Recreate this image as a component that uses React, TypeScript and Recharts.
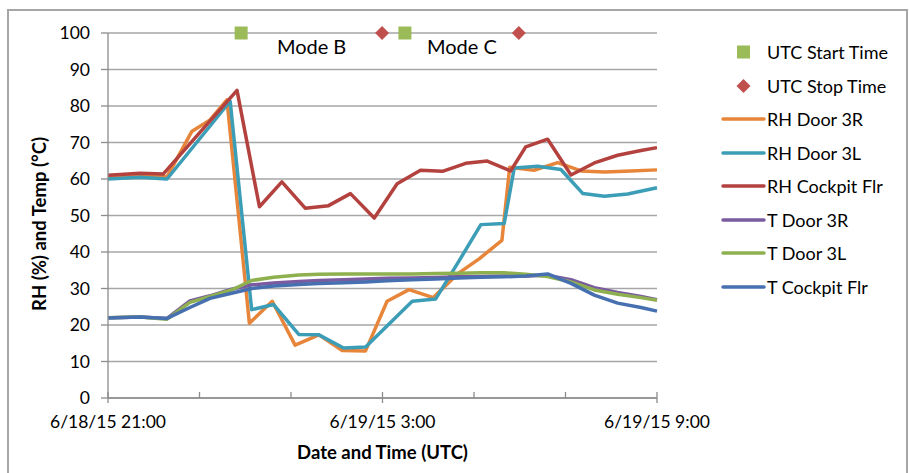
import React from 'react'
import { ComposedChart, Line, Scatter, XAxis, YAxis, CartesianGrid } from 'recharts'

// hours after 6/18/15 21:00 UTC
const xTicks = [0, 2, 4, 6, 8, 10, 12]
const xTickLabels: Record<number, string> = {
  0: '6/18/15 21:00',
  6: '6/19/15 3:00',
  12: '6/19/15 9:00',
}
const yTicks = [0, 10, 20, 30, 40, 50, 60, 70, 80, 90, 100]

const startTimes = [2.91, 6.49]
const stopTimes = [5.99, 8.98]
const modeNames = ['Mode B', 'Mode C']
const markerLevel = 100
const modeLabelLevel = 96.2

const rhDoor3RTimes = [0, 0.7, 1.29, 1.83, 2.23, 2.6, 3.09, 3.59, 4.09, 4.61, 5.12, 5.63, 6.1, 6.58, 7.11, 7.64, 8.12, 8.61, 8.78, 9.31, 9.83, 10.34, 10.85, 11.43, 12]
const rhDoor3R = [60.3, 60.8, 60.6, 73.0, 76.2, 81.7, 20.5, 26.5, 14.5, 17.3, 13.0, 12.9, 26.5, 29.7, 27.5, 34.0, 38.2, 43.2, 63.2, 62.4, 64.5, 62.2, 61.9, 62.2, 62.5]

const rhDoor3LTimes = [0, 0.7, 1.29, 2.67, 3.14, 3.62, 4.17, 4.61, 5.15, 5.63, 6.65, 7.16, 7.67, 8.15, 8.66, 8.88, 9.39, 9.9, 10.38, 10.85, 11.36, 12]
const rhDoor3L = [60.0, 60.5, 60.0, 81.3, 24.2, 25.6, 17.4, 17.3, 13.7, 14.0, 26.5, 27.1, 37.5, 47.5, 47.8, 63.0, 63.5, 62.6, 56.0, 55.3, 55.9, 57.6]

const rhCockpitTimes = [0, 0.7, 1.21, 2.82, 3.31, 3.8, 4.31, 4.82, 5.3, 5.82, 6.32, 6.83, 7.31, 7.82, 8.29, 8.8, 9.13, 9.61, 10.12, 10.63, 11.14, 11.65, 12]
const rhCockpit = [61.0, 61.6, 61.4, 84.3, 52.4, 59.2, 52.0, 52.7, 56.0, 49.3, 58.7, 62.4, 62.1, 64.3, 64.9, 62.2, 68.8, 70.9, 61.1, 64.4, 66.5, 67.8, 68.6]

const tempTimes = [0, 0.7, 1.29, 1.79, 2.23, 2.7, 3.14, 3.62, 4.17, 4.61, 5.15, 5.63, 6.1, 6.65, 7.16, 7.67, 8.15, 8.66, 9.13, 9.61, 10.12, 10.63, 11.14, 11.65, 12]
const tDoor3R = [22.0, 22.2, 21.8, 26.6, 28.0, 29.8, 31.0, 31.5, 31.9, 32.2, 32.4, 32.6, 32.8, 32.9, 33.0, 33.2, 33.3, 33.4, 33.4, 33.6, 32.4, 30.2, 28.9, 27.8, 26.9]
const tDoor3L = [22.0, 22.2, 21.6, 26.2, 27.8, 29.6, 32.2, 33.1, 33.7, 33.9, 34.0, 34.0, 34.0, 34.0, 34.1, 34.2, 34.3, 34.3, 33.9, 33.3, 31.8, 29.6, 28.4, 27.5, 26.8]
const tCockpit = [21.9, 22.2, 21.8, 24.8, 27.3, 28.7, 30.0, 30.7, 31.1, 31.4, 31.6, 31.8, 32.1, 32.4, 32.6, 32.9, 33.1, 33.2, 33.4, 34.0, 31.4, 28.2, 26.0, 24.8, 23.8]

const toPoints = (times: number[], values: number[]) => times.map((t, i) => ({ t, v: values[i] }))

const lineSeries = [
  { name: 'RH Door 3R', color: '#E7863A', data: toPoints(rhDoor3RTimes, rhDoor3R) },
  { name: 'RH Door 3L', color: '#3C9DB6', data: toPoints(rhDoor3LTimes, rhDoor3L) },
  { name: 'RH Cockpit Flr', color: '#B3423F', data: toPoints(rhCockpitTimes, rhCockpit) },
  { name: 'T Door 3R', color: '#7B5B9F', data: toPoints(tempTimes, tDoor3R) },
  { name: 'T Door 3L', color: '#8EB04F', data: toPoints(tempTimes, tDoor3L) },
  { name: 'T Cockpit Flr', color: '#4670B0', data: toPoints(tempTimes, tCockpit) },
]

const startData = startTimes.map((t) => ({ t, v: markerLevel }))
const stopData = stopTimes.map((t) => ({ t, v: markerLevel }))
const modeData = modeNames.map((label, i) => ({
  t: (startTimes[i] + stopTimes[i]) / 2,
  v: modeLabelLevel,
  label,
}))

const START_COLOR = '#9BBB59'
const STOP_COLOR = '#C0504D'
const FONT = 'Lato, "Open Sans", sans-serif'

const Square = ({ cx, cy }: any) => (
  <rect x={cx - 6.5} y={cy - 6.5} width={13} height={13} fill={START_COLOR} />
)

const Diamond = ({ cx, cy }: any) => (
  <polygon
    points={`${cx},${cy - 7} ${cx + 7},${cy} ${cx},${cy + 7} ${cx - 7},${cy}`}
    fill={STOP_COLOR}
  />
)

const ModeText = ({ cx, cy, payload }: any) => (
  <text x={cx} y={cy} dy="0.35em" textAnchor="middle" fontSize={20} fill="#000">
    {payload?.label}
  </text>
)

const XTick = ({ x, y, payload }: any) => {
  const label = xTickLabels[payload.value]
  return (
    <g>
      <line x1={x} x2={x} y1={y - 6} y2={label ? y + 5 : y} stroke="#8c8c8c" strokeWidth={1.3} />
      {label && (
        <text x={x} y={y + 24} dy="0.35em" textAnchor="middle" fontSize={17.5} fill="#000">
          {label}
        </text>
      )}
    </g>
  )
}

export default function App() {
  const legendRows = [
    { name: 'UTC Start Time', kind: 'square', color: START_COLOR },
    { name: 'UTC Stop Time', kind: 'diamond', color: STOP_COLOR },
    ...lineSeries.map((s) => ({ name: s.name, kind: 'line', color: s.color })),
  ]

  return (
    <div
      style={{
        position: 'fixed',
        left: 0,
        top: 0,
        width: 909,
        height: 473,
        overflow: 'hidden',
        background: '#fff',
        fontFamily: FONT,
      }}
    >
      <div
        style={{
          position: 'absolute',
          left: 7,
          top: 9,
          width: 901,
          height: 520,
          boxSizing: 'border-box',
          border: '2px solid #a6a6a6',
        }}
      />
      <ComposedChart
        width={909}
        height={473}
        margin={{ top: 33, right: 252, bottom: 0, left: 0 }}
        style={{ position: 'absolute', left: 0, top: 0 }}
      >
        <CartesianGrid vertical={false} stroke="#a6a6a6" strokeWidth={1.3} />
        <XAxis
          type="number"
          dataKey="t"
          domain={[0, 12]}
          ticks={xTicks}
          interval={0}
          height={75}
          axisLine={{ stroke: '#8c8c8c', strokeWidth: 1.3 }}
          tickLine={false}
          tickSize={0}
          tickMargin={0}
          tick={<XTick />}
          label={{
            content: ({ viewBox }: any) => (
              <text
                x={viewBox.x + viewBox.width / 2}
                y={453}
                dy="0.35em"
                textAnchor="middle"
                fontSize={18.5}
                fontWeight="bold"
                fill="#000"
              >
                Date and Time (UTC)
              </text>
            ),
          }}
        />
        <YAxis
          type="number"
          dataKey="v"
          domain={[0, 100]}
          ticks={yTicks}
          interval={0}
          width={108}
          axisLine={{ stroke: '#8c8c8c', strokeWidth: 1.3 }}
          tickLine={{ stroke: '#8c8c8c', strokeWidth: 1.3 }}
          tickSize={7}
          tickMargin={11}
          tick={{ fill: '#000', fontSize: 17.5 }}
          label={{
            content: () => (
              <text
                x={40}
                y={224}
                dy="0.35em"
                textAnchor="middle"
                fontSize={18.5}
                fontWeight="bold"
                fill="#000"
                transform="rotate(-90 40 224)"
              >
                RH (%) and Temp (°C)
              </text>
            ),
          }}
        />
        <Scatter name="UTC Start Time" data={startData} shape={<Square />} isAnimationActive={false} />
        <Scatter name="UTC Stop Time" data={stopData} shape={<Diamond />} isAnimationActive={false} />
        <Scatter name="Modes" data={modeData} shape={<ModeText />} isAnimationActive={false} />
        {lineSeries.map((s) => (
          <Line
            key={s.name}
            name={s.name}
            data={s.data}
            dataKey="v"
            type="linear"
            stroke={s.color}
            strokeWidth={3.5}
            strokeLinejoin="round"
            dot={false}
            activeDot={false}
            isAnimationActive={false}
          />
        ))}
      </ComposedChart>
      <div style={{ position: 'absolute', left: 0, top: 0 }}>
        {legendRows.map((row, i) => (
          <div
            key={row.name}
            style={{
              position: 'absolute',
              left: 721,
              top: 52.3 + i * 33.5 - 12,
              height: 24,
              width: 185,
              display: 'flex',
              alignItems: 'center',
              whiteSpace: 'nowrap',
            }}
          >
            <svg width={46} height={24} style={{ flex: 'none' }}>
              {row.kind === 'square' && <rect x={16} y={5.5} width={13} height={13} fill={row.color} />}
              {row.kind === 'diamond' && <polygon points="22.5,5 29.5,12 22.5,19 15.5,12" fill={row.color} />}
              {row.kind === 'line' && (
                <line x1={2} x2={43} y1={12} y2={12} stroke={row.color} strokeWidth={3.5} strokeLinecap="round" />
              )}
            </svg>
            <span style={{ fontSize: 18, color: '#000', lineHeight: '24px' }}>{row.name}</span>
          </div>
        ))}
      </div>
    </div>
  )
}
